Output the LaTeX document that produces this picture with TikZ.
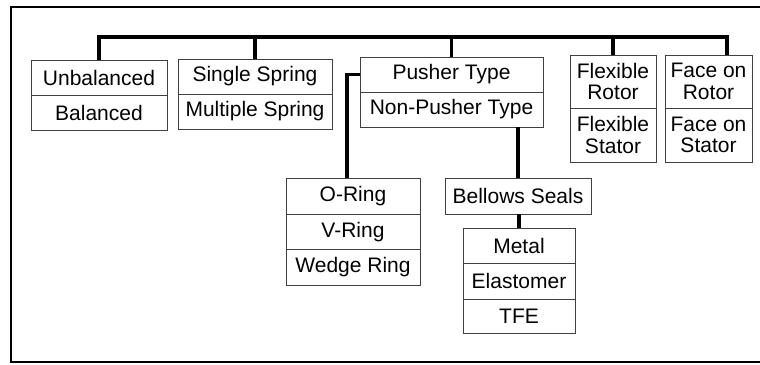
\documentclass[tikz,border=0pt]{standalone}
\usepackage{fontspec}
\setmainfont{Liberation Sans}
\usepackage{tikz}

\begin{document}
\begin{tikzpicture}[x=1pt, y=-1pt,
  cell/.style={draw=black!75, line width=0.9pt, inner sep=0pt, align=center,
    font=\fontsize{21}{21.5}\selectfont},
  conn/.style={line width=3.4pt},
  frame/.style={line width=1.8pt}]
\useasboundingbox (0,0) rectangle (760,364);
% Outer frame (open at the right)
\draw[frame] (760,7) -- (11,7) -- (11,362) -- (760,362);
% Top row of boxes
\node[cell, minimum width=136, minimum height=35] (ub1) at (99,77.5) {Unbalanced};
\node[cell, minimum width=136, minimum height=35] (ub2) at (99,112.5) {Balanced};
\node[cell, minimum width=154, minimum height=35] (ss1) at (255,76.5) {Single Spring};
\node[cell, minimum width=154, minimum height=35] (ss2) at (255,111.5) {Multiple Spring};
\node[cell, minimum width=183, minimum height=35] (pu1) at (451.5,74.5) {Pusher Type};
\node[cell, minimum width=183, minimum height=35] (pu2) at (451.5,109.5) {Non-Pusher Type};
\node[cell, minimum width=86, minimum height=53] (fx1) at (613,81.5) {Flexible\\Rotor};
\node[cell, minimum width=86, minimum height=54] (fx2) at (613,135) {Flexible\\Stator};
\node[cell, minimum width=87, minimum height=53] (fc1) at (708.5,81.5) {Face on\\Rotor};
\node[cell, minimum width=87, minimum height=54] (fc2) at (708.5,135) {Face on\\Stator};
% Pusher branch
\node[cell, minimum width=134, minimum height=35.5] (or1) at (353,196.5) {O-Ring};
\node[cell, minimum width=134, minimum height=35.5] (or2) at (353,232) {V-Ring};
\node[cell, minimum width=134, minimum height=35.5] (or3) at (353,267.5) {Wedge Ring};
% Non-pusher branch
\node[cell, minimum width=146, minimum height=36] (bs) at (518,196) {Bellows Seals};
\node[cell, minimum width=112, minimum height=35] (me1) at (519,245.5) {Metal};
\node[cell, minimum width=112, minimum height=36] (me2) at (519,281) {Elastomer};
\node[cell, minimum width=112, minimum height=34] (me3) at (519,316) {TFE};
% Bus line and drops
\coordinate (busL) at (99,37);
\coordinate (busR) at (727,37);
\draw[conn] (ub1.north) -- (busL) -- (busR) -- (busR |- fc1.north);
\draw[conn] (ss1.north |- busL) -- (ss1.north);
\draw[conn] (pu1.north |- busL) -- (pu1.north);
\draw[conn] (fx1.north |- busL) -- (fx1.north);
% Branch connectors
\draw[conn] (pu1.west) -| ([xshift=-6pt]or1.north);
\draw[conn] (pu2.south -| bs.north) -- (bs.north);
\draw[conn] (bs.south -| me1.north) -- (me1.north);
\end{tikzpicture}
\end{document}
